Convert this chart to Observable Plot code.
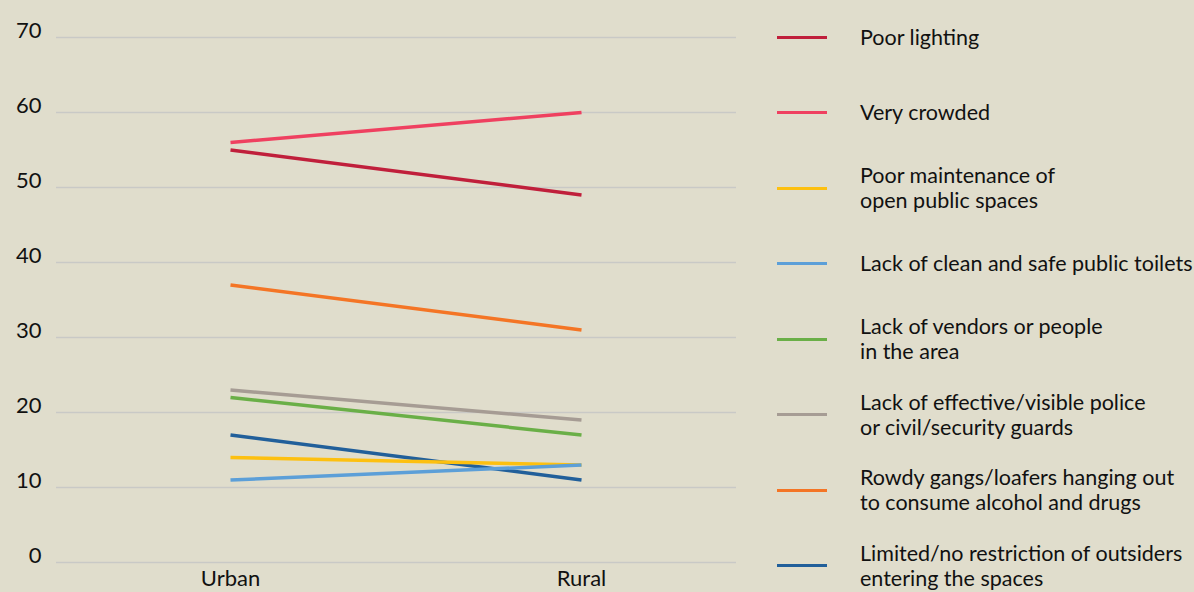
<!DOCTYPE html>
<html>
<head>
<meta charset="utf-8">
<script src="https://cdn.jsdelivr.net/npm/d3@7"></script>
<script src="https://cdn.jsdelivr.net/npm/@observablehq/plot@0.6"></script>
<style>
  html, body { margin: 0; padding: 0; background: #e0ddcc; }
  body { width: 1194px; height: 592px; overflow: hidden; position: relative; font-family: Lato, "Open Sans", sans-serif; }
  #chart { position: absolute; left: 0; top: 0; }
  #legend { position: absolute; left: 777px; top: -0.75px; }
  .row { height: 75.5px; display: flex; align-items: center; }
  .swatch { width: 50px; height: 3px; margin-right: 33px; flex: none; }
  .label { font-size: 21.5px; line-height: 25px; color: #111; white-space: pre-line; }
</style>
</head>
<body>
<div id="chart"></div>
<div id="legend"></div>
<script>
const categories = [
  "Poor lighting",
  "Very crowded",
  "Poor maintenance of\nopen public spaces",
  "Lack of clean and safe public toilets",
  "Lack of vendors or people\nin the area",
  "Lack of effective/visible police\nor civil/security guards",
  "Rowdy gangs/loafers hanging out\nto consume alcohol and drugs",
  "Limited/no restriction of outsiders\nentering the spaces"
];
const areas = ["Urban", "Rural"];
const urban = [55, 56, 14, 11, 22, 23, 37, 17];
const rural = [49, 60, 13, 13, 17, 19, 31, 11];
const colors = ["#c01f3b", "#ef4060", "#fdc010", "#5c9fd8", "#6aaf47", "#a69c94", "#f47525", "#215f9a"];
const yTicks = [0, 10, 20, 30, 40, 50, 60, 70];
const drawOrder = [7, 2, 3, 4, 5, 6, 0, 1];

const data = [];
for (const i of drawOrder) {
  data.push({category: categories[i], area: areas[0], value: urban[i]});
  data.push({category: categories[i], area: areas[1], value: rural[i]});
}

const plot = Plot.plot({
  width: 1194,
  height: 592,
  marginTop: 37,
  marginBottom: 30,
  marginLeft: 56,
  marginRight: 458,
  style: {background: "transparent", fontFamily: "Lato, 'Open Sans', sans-serif", color: "#111"},
  x: {type: "point", domain: areas, range: [230, 581], padding: 0, axis: null},
  y: {domain: [0, 70], axis: null},
  color: {domain: categories, range: colors},
  marks: [
    Plot.ruleY(yTicks, {stroke: "#c9c9c6", strokeWidth: 1.5}),
    Plot.axisY(yTicks, {tickSize: 0, tickPadding: 15, fontSize: 22, dy: -7, textAnchor: "end", fill: "#111", label: null}),
    Plot.axisX(areas, {tickSize: 0, tickPadding: 8, fontSize: 22, fill: "#111", label: null}),
    Plot.line(data, {x: "area", y: "value", z: "category", stroke: "category", strokeWidth: 3.5, strokeLinecap: "butt"})
  ]
});
document.getElementById("chart").appendChild(plot);

const legend = d3.select("#legend");
categories.forEach((c, i) => {
  const row = legend.append("div").attr("class", "row");
  row.append("div").attr("class", "swatch").style("background", colors[i]);
  row.append("div").attr("class", "label").text(c);
});
</script>
</body>
</html>
